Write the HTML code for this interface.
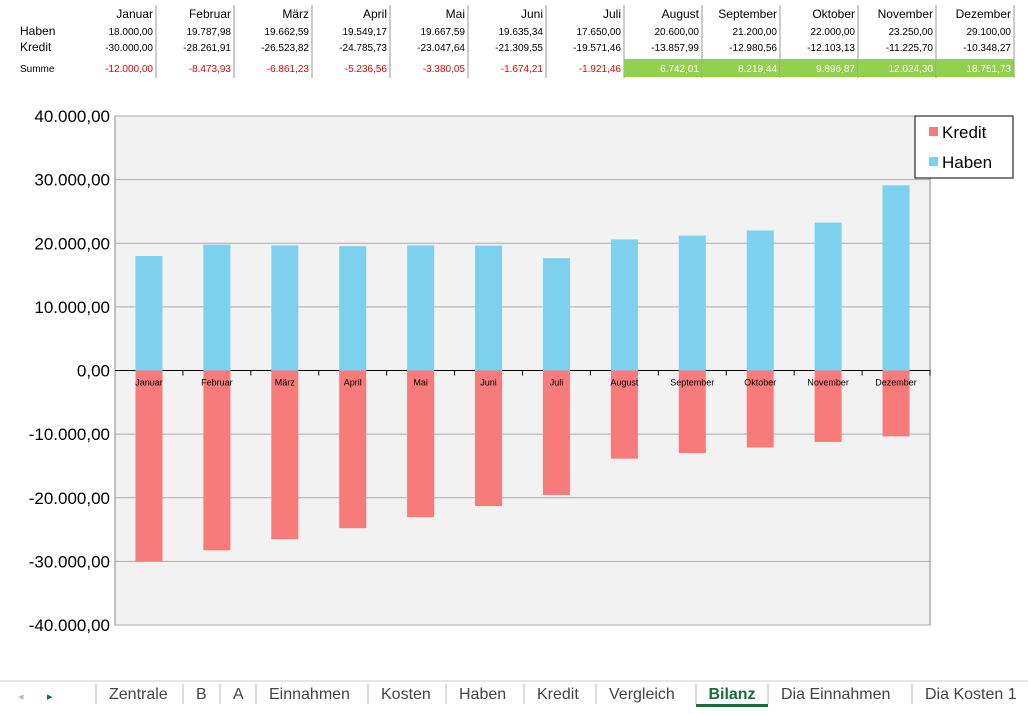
<!DOCTYPE html>
<html><head><meta charset="utf-8">
<style>
body{margin:0;width:1028px;height:714px;background:#fff;font-family:"Liberation Sans",Arial,sans-serif;overflow:hidden;position:relative}
svg{position:absolute;left:0;top:0}
</style></head>
<body>
<svg id="c" width="1028" height="714"></svg>
<script>
const months=["Januar","Februar","März","April","Mai","Juni","Juli","August","September","Oktober","November","Dezember"];
const haben=[18000.00,19787.98,19662.59,19549.17,19667.59,19635.34,17650.00,20600.00,21200.00,22000.00,23250.00,29100.00];
const kredit=[-30000.00,-28261.91,-26523.82,-24785.73,-23047.64,-21309.55,-19571.46,-13857.99,-12980.56,-12103.13,-11225.70,-10348.27];
const yTicks=[40000,30000,20000,10000,0,-10000,-20000,-30000,-40000];
const tabs=["Zentrale","B","A","Einnahmen","Kosten","Haben","Kredit","Vergleich","Bilanz","Dia Einnahmen","Dia Kosten 1"];

const NS="http://www.w3.org/2000/svg";
const svg=document.getElementById('c');
function mk(t,a,txt){const e=document.createElementNS(NS,t);for(const k in a)e.setAttribute(k,a[k]);if(txt!==undefined)e.textContent=txt;svg.appendChild(e);return e;}
function fmt(v){const neg=v<0;v=Math.abs(v);let s=v.toFixed(2).split('.');let i=s[0].replace(/\B(?=(\d{3})+(?!\d))/g,'.');return (neg?'-':'')+i+','+s[1];}

// table
const colR0=155,colW=78;
for(let i=0;i<12;i++){
  const r=colR0+colW*i;
  const s=haben[i]+kredit[i];
  if(s>0){const g=mk('rect',{x:r-colW+1,y:59,width:colW,height:18,fill:'#92d050'});
    
    }
  const ln=mk('line',{x1:r+1,y1:5,x2:r+1,y2:78,stroke:'#999','stroke-width':1});
  
  
  let t=mk('text',{x:r-2,y:18,'font-size':12,'text-anchor':'end',fill:'#000'},months[i]);
  
  
  t=mk('text',{x:r-2,y:35,'font-size':10,'text-anchor':'end',fill:'#000'},fmt(haben[i]));
  
  
  t=mk('text',{x:r-2,y:51,'font-size':10,'text-anchor':'end',fill:'#000'},fmt(kredit[i]));
  
  
  t=mk('text',{x:r-2,y:72,'font-size':10,'text-anchor':'end',fill:s>0?'#fff':'#e00'},fmt(s));
  
  
}
let lb=mk('text',{x:20,y:35,'font-size':12},'Haben');
lb=mk('text',{x:20,y:51,'font-size':12},'Kredit');
lb=mk('text',{x:20,y:72,'font-size':10},'Summe');

// chart
const px0=115,px1=930,py0=116,py1=625;
const yScale=v=>py0+(40000-v)/80000*(py1-py0);
const band=(px1-px0)/months.length;
const xC=i=>px0+band*(i+0.5);
const pa=mk('rect',{x:px0,y:py0,width:px1-px0,height:py1-py0,fill:'#f2f2f2',stroke:'#888','stroke-width':1});

yTicks.forEach(v=>{
  const y=yScale(v);
  const g=mk('line',{x1:px0,y1:y,x2:px1,y2:y,stroke:v===0?'#000':'#aaa','stroke-width':1});
  
  const t=mk('text',{x:110,y:y+6,'font-size':17,'text-anchor':'end'},fmt(v));
  
});
const bw=27;
for(let i=0;i<months.length;i++){
  const x=xC(i);
  const tk=mk('line',{x1:px0+band*(i+1),y1:yScale(0),x2:px0+band*(i+1),y2:yScale(0)+5,stroke:'#000'});
  
  let b=mk('rect',{x:x-bw/2,y:yScale(haben[i]),width:bw,height:yScale(0)-yScale(haben[i]),fill:'#7dd1ee'});
  
  b=mk('rect',{x:x-bw/2,y:yScale(0),width:bw,height:yScale(kredit[i])-yScale(0),fill:'#f77b7b'});
  
  const t=mk('text',{x:x,y:yScale(0)+15,'font-size':9,'text-anchor':'middle'},months[i]);
  
}
// legend
const lg=mk('rect',{x:915,y:116,width:98,height:62,fill:'#fff',stroke:'#000','stroke-width':1});

let s=mk('rect',{x:929,y:127,width:9,height:9,fill:'#f77b7b'});
let t=mk('text',{x:942,y:138,'font-size':17},'Kredit');
s=mk('rect',{x:929,y:157,width:9,height:9,fill:'#7dd1ee'});
t=mk('text',{x:942,y:168,'font-size':17},'Haben');

// tab bar
const tb=mk('rect',{x:0,y:681,width:1028,height:33,fill:'#fff'});
const tl=mk('line',{x1:0,y1:681,x2:1028,y2:681,stroke:'#ccc'});
t=mk('text',{x:18,y:700,'font-size':11,fill:'#bbb'},'◂');
t=mk('text',{x:47,y:700,'font-size':11,fill:'#1a6d3a'},'▸');
const tabX=[96,183,220,256,368,446,524,596,696,768,912];
const tabEnd=[183,220,256,368,446,524,596,696,768,912,1028];
tabs.forEach((n,i)=>{
  const x0=tabX[i],x1=tabEnd[i];
  const sep=mk('line',{x1:x0,y1:684,x2:x0,y2:704,stroke:'#bbb'});
  
  const act=n==='Bilanz';
  const tt=mk('text',{x:act?(x0+x1)/2:x0+13,y:699,'font-size':16,'text-anchor':act?'middle':'start',fill:act?'#1a6d3a':'#444','font-weight':act?'bold':'normal'},n);
  
  
  if(act){const u=mk('rect',{x:x0,y:704,width:x1-x0,height:3,fill:'#1a6d3a'});}
});
</script>
</body></html>
